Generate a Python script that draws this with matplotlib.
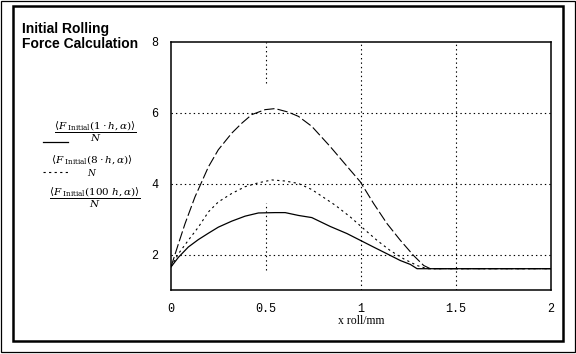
import matplotlib
matplotlib.use("Agg")
import matplotlib.pyplot as plt
from matplotlib.patches import Rectangle
from matplotlib.lines import Line2D

plt.rcParams["lines.scale_dashes"] = False
plt.rcParams["mathtext.fontset"] = "dejavuserif"

# roll position x / mm, force / N
x_low = [0.0, 0.039, 0.091, 0.144, 0.197, 0.249, 0.32, 0.39, 0.46, 0.548, 0.601, 0.671, 0.741,
         0.838, 0.926, 0.996, 1.066, 1.137, 1.207, 1.26, 1.295, 2.0]
y_low = [1.65, 1.92, 2.21, 2.42, 2.60, 2.77, 2.94, 3.08, 3.17, 3.18, 3.18, 3.10, 3.04,
         2.79, 2.59, 2.40, 2.21, 2.02, 1.83, 1.72, 1.6, 1.6]

x_mid = [0.0, 0.039, 0.091, 0.144, 0.197, 0.249, 0.32, 0.39, 0.46, 0.531, 0.601, 0.671, 0.741,
         0.864, 0.943, 1.013, 1.084, 1.154, 1.224, 1.295, 1.348, 2.0]
y_mid = [1.65, 2.02, 2.40, 2.77, 3.20, 3.48, 3.72, 3.91, 4.02, 4.10, 4.07, 4.00, 3.83,
         3.39, 3.06, 2.73, 2.40, 2.11, 1.88, 1.69, 1.6, 1.6]

x_high = [0.0, 0.039, 0.074, 0.126, 0.162, 0.197, 0.249, 0.32, 0.373, 0.425, 0.495, 0.548, 0.618,
          0.671, 0.741, 0.838, 0.943, 0.996, 1.066, 1.137, 1.207, 1.277, 1.33, 1.365, 2.0]
y_high = [1.65, 2.30, 2.87, 3.62, 4.05, 4.47, 4.95, 5.42, 5.70, 5.94, 6.08, 6.11, 6.01,
          5.89, 5.61, 5.04, 4.38, 4.05, 3.44, 2.87, 2.40, 1.97, 1.69, 1.6, 1.6]

xticks = [0, 0.5, 1, 1.5, 2]
xticklabels = ["0", "0.5", "1", "1.5", "2"]
yticks = [2, 4, 6, 8]

labels = [r"$\dfrac{\langle F_{\ \mathrm{Initial}}(1\cdot h,\alpha)\rangle}{N}$",
          r"$\langle F_{\ \mathrm{Initial}}(8\cdot h,\alpha)\rangle$",
          r"$\dfrac{\langle F_{\ \mathrm{Initial}}(100\ h,\alpha)\rangle}{N}$"]

W, H = 576, 354


def px(x, y):
    return x / W, 1 - y / H


fig = plt.figure(figsize=(W / 100, H / 100), dpi=100)
fig.patch.set_facecolor("white")

# frames around the whole region
fig.add_artist(Rectangle(px(0.7, 352.3), 574.6 / W, 351.6 / H, transform=fig.transFigure,
                         fill=False, lw=0.9, ec="black"))
fig.add_artist(Rectangle(px(13, 340.5), 549.5 / W, 334.5 / H, transform=fig.transFigure,
                         fill=False, lw=1.8, ec="black"))

ax = fig.add_axes([171 / W, 1 - 290 / H, 380 / W, 248.5 / H])
ax.set_xlim(0, 2)
ax.set_ylim(1, 8)

dot = (0, (1.0, 2.2))
for yv in [2, 4, 6]:
    ax.axhline(yv, color="black", lw=0.8, ls=dot, zorder=1)
for xv in [1, 1.5]:
    ax.axvline(xv, color="black", lw=0.8, ls=dot, zorder=1)
ax.axvline(0.5, ymin=0.833, ymax=1, color="black", lw=0.8, ls=dot, zorder=1)
ax.axvline(0.5, ymin=0.079, ymax=0.349, color="black", lw=0.8, ls=dot, zorder=1)

ax.plot(x_low, y_low, color="black", lw=0.9)
ax.plot(x_mid, y_mid, color="black", lw=0.8, ls=(0, (1.6, 2.4)))
ax.plot(x_high, y_high, color="black", lw=0.8, ls=(0, (7.5, 2.2)))

for s in ax.spines.values():
    s.set_linewidth(1.1)

ax.set_xticks(xticks)
ax.set_xticklabels(xticklabels)
ax.set_yticks(yticks)
ax.tick_params(length=0, labelsize=8.5, pad=9)
for t in ax.get_xticklabels() + ax.get_yticklabels():
    t.set_fontfamily("Liberation Mono")
ax.set_xlabel("x roll/mm", fontsize=8.5, family="Liberation Serif", labelpad=0)

fig.text(*px(22, 22), "Initial Rolling\nForce Calculation", fontsize=10, fontweight="bold",
         family="Liberation Sans", va="top", ha="left", linespacing=1.05)

# legend entries
fig.text(*px(95, 132), labels[0], fontsize=7.5, ha="center", va="center")
fig.text(*px(92, 159), labels[1], fontsize=7.5, ha="center", va="center")
fig.text(*px(92, 172), r"$N$", fontsize=6.5, ha="center", va="center")
fig.text(*px(95, 198), labels[2], fontsize=7.5, ha="center", va="center")
fig.add_artist(Line2D([43 / W, 68 / W], [1 - 142 / H] * 2, transform=fig.transFigure,
                      color="black", lw=0.9))
fig.add_artist(Line2D([43 / W, 68 / W], [1 - 172 / H] * 2, transform=fig.transFigure,
                      color="black", lw=0.8, ls=(0, (1.6, 2.4))))

fig.savefig("out.png", dpi=100)
